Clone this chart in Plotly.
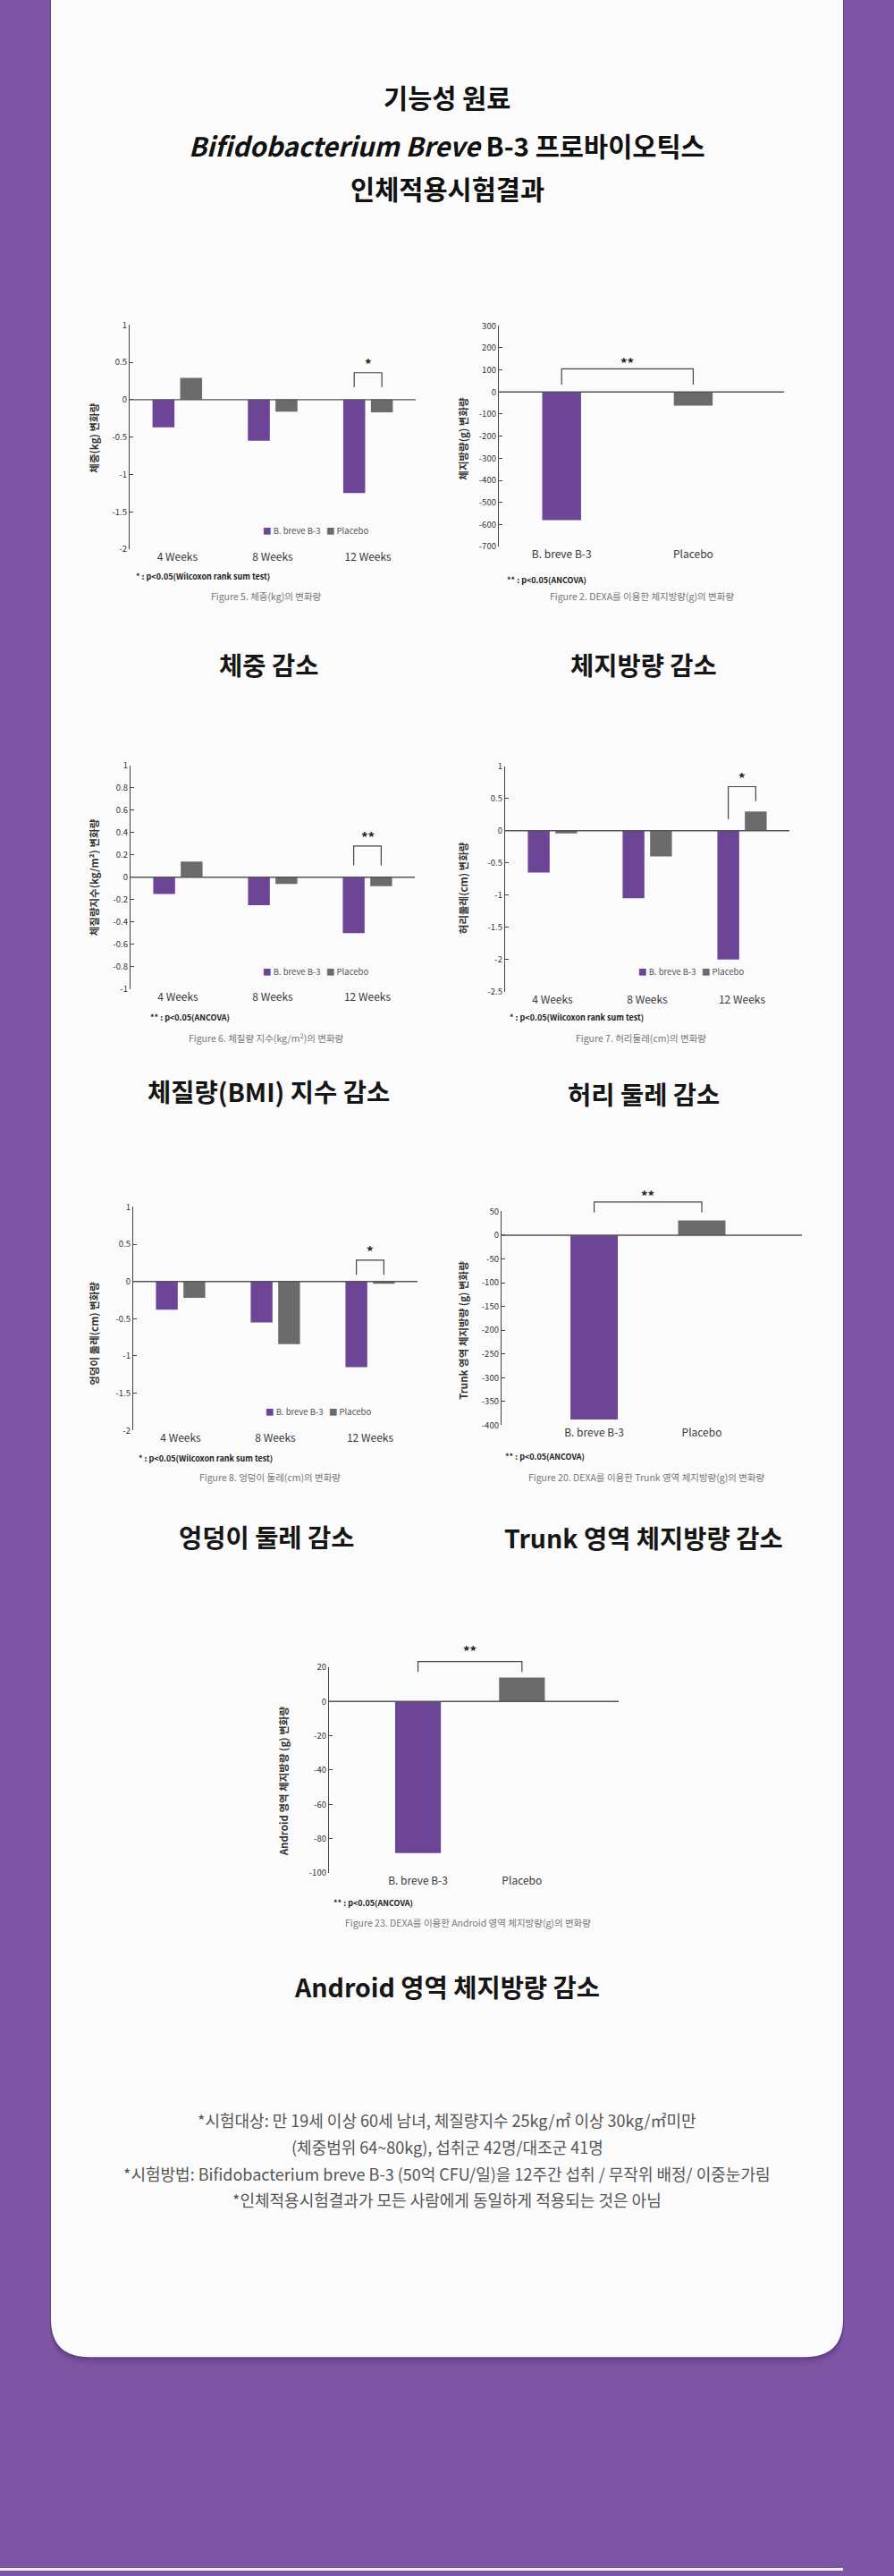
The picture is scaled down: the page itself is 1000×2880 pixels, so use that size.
import plotly.graph_objects as go

W, H = 1000, 2880

# ---------------- data ----------------
weeks = ["4 Weeks", "8 Weeks", "12 Weeks"]
groups = ["B. breve B-3", "Placebo"]

weight_breve = [-0.37, -0.55, -1.25]
weight_placebo = [0.29, -0.16, -0.17]

fat_mass = [-580, -62]

bmi_breve = [-0.15, -0.25, -0.50]
bmi_placebo = [0.14, -0.06, -0.08]

waist_breve = [-0.65, -1.05, -2.0]
waist_placebo = [-0.04, -0.40, 0.30]

hip_breve = [-0.38, -0.55, -1.15]
hip_placebo = [-0.22, -0.84, -0.03]

trunk_fat = [-388, 31]
android_fat = [-88.5, 14]

weight_ticks = [1, 0.5, 0, -0.5, -1, -1.5, -2]
fat_ticks = [300, 200, 100, 0, -100, -200, -300, -400, -500, -600, -700]
bmi_ticks = [1, 0.8, 0.6, 0.4, 0.2, 0, -0.2, -0.4, -0.6, -0.8, -1]
waist_ticks = [1, 0.5, 0, -0.5, -1, -1.5, -2, -2.5]
hip_ticks = [1, 0.5, 0, -0.5, -1, -1.5, -2]
trunk_ticks = [50, 0, -50, -100, -150, -200, -250, -300, -350, -400]
android_ticks = [20, 0, -20, -40, -60, -80, -100]

title_lines = ["기능성 원료", "<i>Bifidobacterium Breve</i> B-3 프로바이오틱스", "인체적용시험결과"]
footer_lines = [
    "*시험대상: 만 19세 이상 60세 남녀, 체질량지수 25kg/㎡ 이상 30kg/㎡미만",
    "(체중범위 64~80kg), 섭취군 42명/대조군 41명",
    "*시험방법: Bifidobacterium breve B-3 (50억 CFU/일)을 12주간 섭취 / 무작위 배정/ 이중눈가림",
    "*인체적용시험결과가 모든 사람에게 동일하게 적용되는 것은 아님",
]

# ---------------- style ----------------
FONT = "Noto Sans CJK KR, Noto Sans, sans-serif"
PURPLE = "#6c4597"
GRAY = "#6b6b6b"
BG = "#7d55a5"
CARD = "#fbfbfb"
AXC = "#444444"

WILCOX = "* : p<0.05(Wilcoxon rank sum test)"
ANCOVA = "** : p<0.05(ANCOVA)"

charts = [
    dict(kind="group", a=weight_breve, b=weight_placebo, ticks=weight_ticks,
         px=(145, 465), py=(357, 609), yr=(-2, 1), xr=(-0.5, 2.5),
         ytitle="체중(kg) 변화량", ytpos=(105, 484),
         legend=(292, 588), foot=WILCOX, footpos=(150, 640),
         caption="Figure 5. 체중(kg)의 변화량", cappos=(298, 662),
         sub="체중 감소", subpos=(300, 738),
         br=dict(i=2, top=0.36, legl=0.17, legr=0.17, star="*", sy=0.52)),
    dict(kind="pair", a=fat_mass, ticks=fat_ticks, bw=0.295,
         px=(558, 877), py=(358, 606), yr=(-700, 300), xr=(-0.477, 1.69),
         ytitle="체지방량(g) 변화량", ytpos=(518, 485),
         legend=None, foot=ANCOVA, footpos=(565, 644),
         caption="Figure 2. DEXA를 이용한 체지방량(g)의 변화량", cappos=(718, 662),
         sub="체지방량 감소", subpos=(720, 738),
         br=dict(top=105, legl=34, legr=34, star="**", sy=144)),
    dict(kind="group", a=bmi_breve, b=bmi_placebo, ticks=bmi_ticks,
         px=(146, 464), py=(852, 1103), yr=(-1, 1), xr=(-0.5, 2.5),
         ytitle="체질량지수(kg/m²) 변화량", ytpos=(105, 978),
         legend=(292, 1083), foot=ANCOVA, footpos=(166, 1135),
         caption="Figure 6. 체질량 지수(kg/m²)의 변화량", cappos=(298, 1158),
         sub="체질량(BMI) 지수 감소", subpos=(300, 1217),
         br=dict(i=2, top=0.28, legl=0.107, legr=0.107, star="**", sy=0.385)),
    dict(kind="group", a=waist_breve, b=waist_placebo, ticks=waist_ticks,
         px=(565, 883), py=(853, 1106), yr=(-2.5, 1), xr=(-0.5, 2.5),
         ytitle="허리둘레(cm) 변화량", ytpos=(518, 990),
         legend=(712, 1083), foot=WILCOX, footpos=(568, 1135),
         caption="Figure 7. 허리둘레(cm)의 변화량", cappos=(717, 1158),
         sub="허리 둘레 감소", subpos=(720, 1220),
         br=dict(i=2, top=0.685, legl=0.18, legr=0.46, star="*", sy=0.865)),
    dict(kind="group", a=hip_breve, b=hip_placebo, ticks=hip_ticks,
         px=(149, 467), py=(1348, 1599), yr=(-2, 1), xr=(-0.5, 2.5),
         ytitle="엉덩이 둘레(cm) 변화량", ytpos=(105, 1490),
         legend=(295, 1578), foot=WILCOX, footpos=(153, 1630),
         caption="Figure 8. 엉덩이 둘레(cm)의 변화량", cappos=(302, 1652),
         sub="엉덩이 둘레 감소", subpos=(298, 1718),
         br=dict(i=2, top=0.286, legl=0.09, legr=0.09, star="*", sy=0.45)),
    dict(kind="pair", a=trunk_fat, ticks=trunk_ticks, bw=0.44,
         px=(561, 897), py=(1353, 1593), yr=(-400, 50), xr=(-0.86, 1.93),
         ytitle="Trunk 영역 체지방량 (g) 변화량", ytpos=(518, 1487),
         legend=None, foot=ANCOVA, footpos=(563, 1628),
         caption="Figure 20. DEXA를 이용한 Trunk 영역 체지방량(g)의 변화량", cappos=(723, 1652),
         sub="Trunk 영역 체지방량 감소", subpos=(720, 1719),
         br=dict(top=70, legl=48, legr=48, star="**", sy=89)),
    dict(kind="pair", a=android_fat, ticks=android_ticks, bw=0.44,
         px=(368, 692), py=(1865, 2096), yr=(-100, 20), xr=(-0.856, 1.93),
         ytitle="Android 영역 체지방량 (g) 변화량", ytpos=(317, 1993),
         legend=None, foot=ANCOVA, footpos=(371, 2130),
         caption="Figure 23. DEXA를 이용한 Android 영역 체지방량(g)의 변화량", cappos=(523, 2152),
         sub="Android 영역 체지방량 감소", subpos=(500, 2223),
         br=dict(top=23.3, legl=17.2, legr=17.2, star="**", sy=31)),
]

GW = 0.23      # bar width in grouped charts
GOFF = 0.145   # half distance between paired bar centres


def PX(x):
    return x / W


def PY(y):
    return 1 - y / H


def xpix(c, v):
    x0, x1 = c["px"]
    a, b = c["xr"]
    return x0 + (v - a) / (b - a) * (x1 - x0)


def ypix(c, v):
    y0, y1 = c["py"]
    a, b = c["yr"]
    return y1 - (v - a) / (b - a) * (y1 - y0)


fig = go.Figure()
shapes = []
annotations = []


def ann(x, y, text, size, color="#222", xanchor="center", angle=0, bold=False):
    annotations.append(dict(
        x=PX(x), y=PY(y), xref="paper", yref="paper", text=f"<b>{text}</b>" if bold else text,
        showarrow=False, xanchor=xanchor, yanchor="middle", textangle=angle,
        font=dict(family=FONT, size=size, color=color)))


# ---- card background ----
cx0, cx1, cb, r = 57, 943, 2640, 43


def card_path(dy=0, grow=0):
    x0, x1, b = cx0 - grow, cx1 + grow, cb + dy
    pts = [
        f"M {PX(x0)},{PY(-20)}", f"L {PX(x1)},{PY(-20)}", f"L {PX(x1)},{PY(b - r)}",
        f"Q {PX(x1)},{PY(b)} {PX(x1 - r)},{PY(b)}", f"L {PX(x0 + r)},{PY(b)}",
        f"Q {PX(x0)},{PY(b)} {PX(x0)},{PY(b - r)}", "Z"]
    return " ".join(pts)


for dy, op in [(10, 0.06), (7, 0.08), (4, 0.12), (2, 0.15)]:
    shapes.append(dict(type="path", path=card_path(dy, 1), xref="paper", yref="paper",
                       fillcolor=f"rgba(60,30,90,{op})", line=dict(width=0), layer="below"))
shapes.append(dict(type="path", path=card_path(), xref="paper", yref="paper",
                   fillcolor=CARD, line=dict(width=0), layer="below"))
shapes.append(dict(type="rect", xref="paper", yref="paper", x0=0, x1=PX(943),
                   y0=0, y1=PY(2877), fillcolor="#f1eef6", line=dict(width=0), layer="below"))

# ---- title ----
for txt, y in zip(title_lines, [100, 155, 203]):
    ann(500, y, txt, 29.5, "#111", bold=True)

# ---- charts ----
layout_axes = {}
for n, c in enumerate(charts, start=1):
    xa, ya = f"x{n}", f"y{n}"
    if c["kind"] == "group":
        cats = weeks
        fig.add_trace(go.Bar(x=weeks, y=c["a"], xaxis=xa, yaxis=ya, marker_color=PURPLE,
                             width=GW, offset=-GOFF - GW / 2, marker_line_width=0,
                             showlegend=False, name="B. breve B-3"))
        fig.add_trace(go.Bar(x=weeks, y=c["b"], xaxis=xa, yaxis=ya, marker_color=GRAY,
                             width=GW, offset=GOFF - GW / 2, marker_line_width=0,
                             showlegend=False, name="Placebo"))
        i = c["br"]["i"]
        bl, brx = i - GOFF, i + GOFF
    else:
        cats = groups
        fig.add_trace(go.Bar(x=[groups[0]], y=[c["a"][0]], xaxis=xa, yaxis=ya,
                             marker_color=PURPLE, width=c["bw"], marker_line_width=0,
                             showlegend=False, name=groups[0]))
        fig.add_trace(go.Bar(x=[groups[1]], y=[c["a"][1]], xaxis=xa, yaxis=ya,
                             marker_color=GRAY, width=c["bw"], marker_line_width=0,
                             showlegend=False, name=groups[1]))
        bl, brx = 0, 1

    axn = "" if n == 1 else str(n)
    layout_axes[f"xaxis{axn}"] = dict(
        domain=[PX(c["px"][0]), PX(c["px"][1])], anchor=ya, range=list(c["xr"]),
        type="category", categoryorder="array", categoryarray=cats,
        showline=False, showgrid=False, zeroline=False, ticks="",
        tickfont=dict(family=FONT, size=12, color="#3a3a3a"), fixedrange=True)
    layout_axes[f"yaxis{axn}"] = dict(
        domain=[PY(c["py"][1]), PY(c["py"][0])], anchor=xa, range=list(c["yr"]),
        showline=True, linecolor=AXC, linewidth=1.3, showgrid=False, zeroline=False,
        ticks="inside", ticklen=4, tickcolor=AXC, tickwidth=1.2,
        tickvals=c["ticks"], ticktext=[f"{v:g}" for v in c["ticks"]],
        tickfont=dict(family=FONT, size=9.5, color="#333"), fixedrange=True)

    # zero line across the plot
    y0 = ypix(c, 0)
    shapes.append(dict(type="line", xref="paper", yref="paper",
                       x0=PX(c["px"][0]), x1=PX(c["px"][1]), y0=PY(y0), y1=PY(y0),
                       line=dict(color="#555", width=1.4), layer="above"))

    # significance bracket
    b = c["br"]
    xl, xr_ = xpix(c, bl), xpix(c, brx)
    yt, yl, yr_ = ypix(c, b["top"]), ypix(c, b["legl"]), ypix(c, b["legr"])
    path = (f"M {PX(xl)},{PY(yl)} L {PX(xl)},{PY(yt)} L {PX(xr_)},{PY(yt)} "
            f"L {PX(xr_)},{PY(yr_)}")
    shapes.append(dict(type="path", path=path, xref="paper", yref="paper",
                       line=dict(color="#444", width=1.2), layer="above"))
    ann((xl + xr_) / 2, ypix(c, b["sy"]) + 3, b["star"], 15, "#222", bold=True)

    # texts
    ann(c["ytpos"][0], c["ytpos"][1], c["ytitle"], 11.5, "#333", angle=-90, bold=True)
    if c["legend"]:
        lx, ly = c["legend"]
        ann(lx, ly, f"<span style='color:{PURPLE}'>■</span> B. breve B-3"
                    f"   <span style='color:{GRAY}'>■</span> Placebo", 9.5, "#555", xanchor="left")
    ann(c["footpos"][0], c["footpos"][1], c["foot"], 9, "#222", xanchor="left", bold=True)
    ann(c["cappos"][0], c["cappos"][1], c["caption"], 10.5, "#777")
    ann(c["subpos"][0], c["subpos"][1], c["sub"], 28.5, "#161616", bold=True)

# ---- footer ----
for txt, y in zip(footer_lines, [2374, 2404, 2434, 2463]):
    ann(500, y, txt, 18, "#555")

fig.update_layout(
    width=W, height=H, margin=dict(l=0, r=0, t=0, b=0), autosize=False,
    paper_bgcolor=BG, plot_bgcolor="rgba(0,0,0,0)", barmode="overlay",
    shapes=shapes, annotations=annotations, showlegend=False,
    font=dict(family=FONT), **layout_axes)

fig.write_html("out.html")
